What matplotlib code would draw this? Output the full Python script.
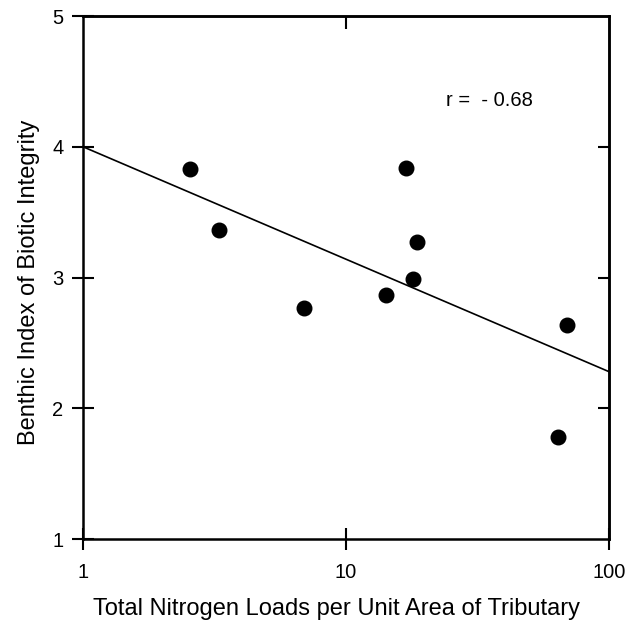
import numpy as np
import matplotlib
matplotlib.use("Agg")
import matplotlib.pyplot as plt
from matplotlib.ticker import NullLocator, FixedLocator, FixedFormatter

plt.rcParams['font.family'] = ['Liberation Sans', 'DejaVu Sans']

# total nitrogen load per unit area (log scale) and benthic IBI
nitrogen = [2.55, 3.3, 6.9, 14.2, 16.9, 18.6, 18.0, 64.0, 69.5]
bibi = [3.83, 3.36, 2.77, 2.87, 3.84, 3.27, 2.99, 1.78, 2.64]

# regression line: bibi = a + b*log10(N)
fit_a = 4.0
fit_b = -0.86
r_text = "r =  - 0.68"

x_ticks = [1, 10, 100]
x_labels = ["1", "10", "100"]
y_ticks = [1, 2, 3, 4, 5]

fig = plt.figure(figsize=(6.36, 6.23), dpi=100)
ax = fig.add_axes([0.1305, 0.1348, 0.827, 0.8395])

ax.set_xscale('log')
ax.set_xlim(1, 100)
ax.set_ylim(1, 5)

xl = np.array([1, 100])
ax.plot(xl, fit_a + fit_b * np.log10(xl), color='black', lw=1.2, clip_on=False)
ax.scatter(nitrogen, bibi, s=110, color='black', zorder=3)

ax.text(24.0, 4.35, r_text, fontsize=14.5, va='center', ha='left')

for s in ax.spines.values():
    s.set_linewidth(1.8)

ax.xaxis.set_major_locator(FixedLocator(x_ticks))
ax.xaxis.set_major_formatter(FixedFormatter(x_labels))
ax.xaxis.set_minor_locator(NullLocator())
ax.set_yticks(y_ticks)

ax.tick_params(axis='both', which='major', direction='inout', length=16,
               width=1.5, labelsize=14.5, top=False, right=False)
ax.tick_params(axis='x', pad=9)
ax.tick_params(axis='y', pad=6)

# inward ticks on top and right
top = ax.secondary_xaxis('top')
top.xaxis.set_major_locator(FixedLocator([10]))
top.xaxis.set_minor_locator(NullLocator())
top.tick_params(direction='in', length=9, width=1.5, labeltop=False)
top.spines['top'].set_linewidth(1.8)

right = ax.secondary_yaxis('right')
right.set_yticks(y_ticks[1:-1])
right.tick_params(direction='in', length=8, width=1.5, labelright=False)
right.spines['right'].set_linewidth(1.8)

ax.set_xlabel("Total Nitrogen Loads per Unit Area of Tributary", fontsize=17, labelpad=12)
ax.set_ylabel("Benthic Index of Biotic Integrity", fontsize=17, labelpad=9)
ax.xaxis.label.set_x(0.482)
ax.yaxis.label.set_y(0.49)

fig.savefig("out.png", dpi=100)
